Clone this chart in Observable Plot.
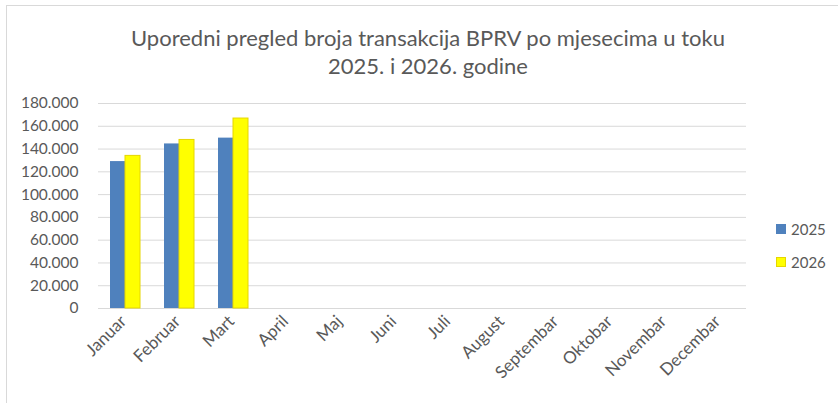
<!DOCTYPE html>
<html><head><meta charset="utf-8">
<script src="https://cdn.jsdelivr.net/npm/d3@7"></script>
<script src="https://cdn.jsdelivr.net/npm/@observablehq/plot@0.6"></script>
<style>
html,body{margin:0;padding:0;background:#fff;}
#wrap{position:relative;width:838px;height:403px;overflow:hidden;font-family:Lato,"Open Sans",sans-serif;color:#595959;}
#frame{position:absolute;left:6px;top:5px;width:900px;height:500px;border-top:1px solid #d9d9d9;border-left:1px solid #d9d9d9;}
#title{position:absolute;left:0;top:24px;width:856px;text-align:center;font-size:22px;line-height:28px;color:#595959;}
#chart{position:absolute;left:0;top:88px;}
.leg{position:absolute;left:776px;font-size:15px;display:flex;align-items:center;}
.sw{width:10px;height:10px;margin-right:5px;box-sizing:border-box;}
</style></head>
<body><div id="wrap"><div id="frame"></div>
<div id="title">Uporedni pregled broja transakcija BPRV po mjesecima u toku<br>2025. i 2026. godine</div>
<div id="chart"></div>
<div id="legend"></div>
</div>
<script>
const months = ["Januar","Februar","Mart","April","Maj","Juni","Juli","August","Septembar","Oktobar","Novembar","Decembar"];
const years = ["2025","2026"];
const values2025 = [129000,144500,149600,null,null,null,null,null,null,null,null,null];
const values2026 = [134000,148000,166800,null,null,null,null,null,null,null,null,null];
const yTicks = [0,20000,40000,60000,80000,100000,120000,140000,160000,180000];
const colors = {"2025":"#4f81bd","2026":"#ffff00"};
const strokes = {"2025":"#4f81bd","2026":"#e6d600"};

const data = [];
months.forEach((m,i)=>{
  data.push({month:m,year:"2025",value:values2025[i]});
  data.push({month:m,year:"2026",value:values2026[i]});
});

const fmt = d3.formatLocale({decimal:",",thousands:".",grouping:[3],currency:["",""]}).format(",");

const plot = Plot.plot({
  width: 838, height: 300,
  marginTop: 15, marginBottom: 80, marginLeft: 96, marginRight: 90,
  style: {fontFamily: "Lato, 'Open Sans', sans-serif", fontSize: "15.5px", color: "#595959", background: "transparent"},
  fx: {domain: months, padding: 0, label: null, axis: null},
  x: {domain: years, paddingInner: 0, paddingOuter: 0.72, axis: null},
  y: {domain: [0,180000], ticks: yTicks, tickFormat: fmt, label: null, tickSize: 0, tickPadding: 20, grid: false},
  marks: [
    Plot.ruleY(yTicks, {stroke: "#d9d9d9", strokeWidth: 1}),
    Plot.barY(data, {fx: "month", x: "year", y: "value", fill: d => colors[d.year], stroke: d => strokes[d.year], strokeWidth: d => d.year === "2026" ? 1 : 0}),
    Plot.axisFx({domain: months, label: null, tickRotate: -45, tickSize: 0, tickPadding: 10, fontSize: 17, dx: -2, anchor: "bottom"})
  ]
});
document.getElementById("chart").appendChild(plot);

const leg = document.getElementById("legend");
years.forEach((y,i)=>{
  const d = document.createElement("div");
  d.className = "leg";
  d.style.top = (220 + i*33) + "px";
  d.innerHTML = `<div class="sw" style="background:${colors[y]};border:1px solid ${strokes[y]}"></div><span>${y}</span>`;
  leg.appendChild(d);
});
</script></body></html>
